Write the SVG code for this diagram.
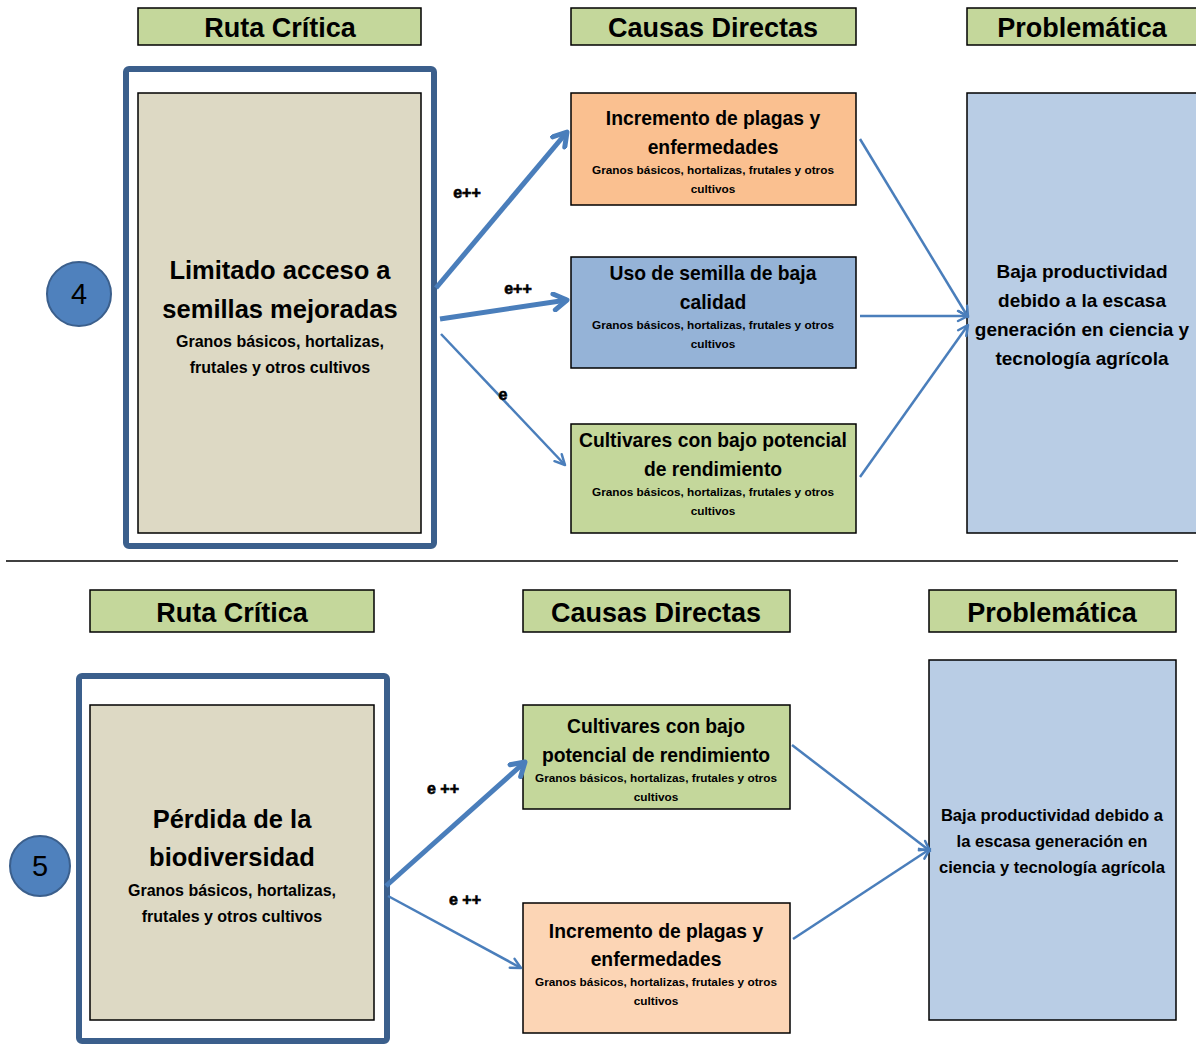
<svg xmlns="http://www.w3.org/2000/svg" width="1196" height="1044" viewBox="0 0 1196 1044">
<style>
text{font-family:"Liberation Sans",Arial,sans-serif;font-weight:bold;fill:#000;text-anchor:middle}
.hdr{fill:#c4d79b;stroke:#000;stroke-width:1.5}
.hdrt{font-size:27px}
.frame{fill:#fff;stroke:#3b5f8c;stroke-width:6}
.beige{fill:#ddd9c4;stroke:#000;stroke-width:1.5}
.box{stroke:#000;stroke-width:1.5}
.main{font-size:25.5px}
.sub{font-size:16px}
.bt{font-size:19.3px}
.st{font-size:11.8px}
.pt{font-size:19px}
.pt2{font-size:16.6px}
.num{fill:#4f81bd;stroke:#3b5f8c;stroke-width:2}
.numt{font-size:29px;font-weight:normal}
.lbl{font-size:16px;stroke:#000;stroke-width:0.6}
.thick{stroke:#4a7ebb;stroke-width:5;fill:none;marker-end:url(#ahT)}
.thin{stroke:#4a7ebb;stroke-width:2.5;fill:none;marker-end:url(#ahN)}
</style>
<defs>
<marker id="ahT" markerUnits="userSpaceOnUse" viewBox="0 0 20 20" refX="16" refY="10" markerWidth="20" markerHeight="20" orient="auto">
<path d="M3,2 L16,10 L3,18" fill="none" stroke="#4a7ebb" stroke-width="5" stroke-linecap="round" stroke-linejoin="round"/>
</marker>
<marker id="ahN" markerUnits="userSpaceOnUse" viewBox="0 0 14 14" refX="12" refY="7" markerWidth="14" markerHeight="14" orient="auto">
<path d="M2,2 L12,7 L2,12" fill="none" stroke="#4a7ebb" stroke-width="2.5" stroke-linecap="round" stroke-linejoin="round"/>
</marker>
</defs>
<rect width="1196" height="1044" fill="#fff"/>

<!-- Section 4 headers -->
<g id="h4-ruta"><rect class="hdr" x="138" y="8" width="283" height="37"/><text class="hdrt" x="280" y="37">Ruta Crítica</text></g>
<g id="h4-causas"><rect class="hdr" x="571" y="8" width="285" height="37"/><text class="hdrt" x="713" y="37">Causas Directas</text></g>
<g id="h4-prob"><rect class="hdr" x="967" y="8" width="232" height="37"/><text class="hdrt" x="1082" y="37">Problemática</text></g>

<g id="n4-ruta">
<rect class="frame" x="126" y="69" width="308" height="477" rx="3"/>
<rect class="beige" x="138" y="93" width="283" height="440"/>
<text class="main" x="280" y="279">Limitado acceso a</text>
<text class="main" x="280" y="318">semillas mejoradas</text>
<text class="sub" x="280" y="347">Granos básicos, hortalizas,</text>
<text class="sub" x="280" y="373">frutales y otros cultivos</text>
</g>
<g id="n4-num"><circle class="num" cx="79" cy="294" r="32"/><text class="numt" x="79" y="304">4</text></g>

<g id="n4-c1">
<rect class="box" x="571" y="93" width="285" height="112" fill="#fac090"/>
<text class="bt" x="713" y="125">Incremento de plagas y</text>
<text class="bt" x="713" y="154">enfermedades</text>
<text class="st" x="713" y="174">Granos básicos, hortalizas, frutales y otros</text>
<text class="st" x="713" y="193">cultivos</text>
</g>
<g id="n4-c2">
<rect class="box" x="571" y="257" width="285" height="111" fill="#95b3d7"/>
<text class="bt" x="713" y="280">Uso de semilla de baja</text>
<text class="bt" x="713" y="309">calidad</text>
<text class="st" x="713" y="329">Granos básicos, hortalizas, frutales y otros</text>
<text class="st" x="713" y="348">cultivos</text>
</g>
<g id="n4-c3">
<rect class="box" x="571" y="424" width="285" height="109" fill="#c4d79b"/>
<text class="bt" x="713" y="447">Cultivares con bajo potencial</text>
<text class="bt" x="713" y="476">de rendimiento</text>
<text class="st" x="713" y="496">Granos básicos, hortalizas, frutales y otros</text>
<text class="st" x="713" y="515">cultivos</text>
</g>
<g id="n4-prob">
<rect class="box" x="967" y="93" width="232" height="440" fill="#b9cde5"/>
<text class="pt" x="1082" y="278">Baja productividad</text>
<text class="pt" x="1082" y="307">debido a la escasa</text>
<text class="pt" x="1082" y="336">generación en ciencia y</text>
<text class="pt" x="1082" y="365">tecnología agrícola</text>
</g>

<line x1="6" y1="561" x2="1178" y2="561" stroke="#000" stroke-width="1.5"/>

<!-- Section 5 headers -->
<g id="h5-ruta"><rect class="hdr" x="90" y="590" width="284" height="42"/><text class="hdrt" x="232" y="622">Ruta Crítica</text></g>
<g id="h5-causas"><rect class="hdr" x="523" y="590" width="267" height="42"/><text class="hdrt" x="656" y="622">Causas Directas</text></g>
<g id="h5-prob"><rect class="hdr" x="929" y="590" width="247" height="42"/><text class="hdrt" x="1052" y="622">Problemática</text></g>

<g id="n5-ruta">
<rect class="frame" x="79" y="676" width="308" height="365" rx="3"/>
<rect class="beige" x="90" y="705" width="284" height="315"/>
<text class="main" x="232" y="828">Pérdida de la</text>
<text class="main" x="232" y="866">biodiversidad</text>
<text class="sub" x="232" y="896">Granos básicos, hortalizas,</text>
<text class="sub" x="232" y="922">frutales y otros cultivos</text>
</g>
<g id="n5-num"><circle class="num" cx="40" cy="866" r="30"/><text class="numt" x="40" y="876">5</text></g>

<g id="n5-c1">
<rect class="box" x="523" y="705" width="267" height="104" fill="#c4d79b"/>
<text class="bt" x="656" y="733">Cultivares con bajo</text>
<text class="bt" x="656" y="762">potencial de rendimiento</text>
<text class="st" x="656" y="782">Granos básicos, hortalizas, frutales y otros</text>
<text class="st" x="656" y="801">cultivos</text>
</g>
<g id="n5-c2">
<rect class="box" x="523" y="903" width="267" height="130" fill="#fcd5b5"/>
<text class="bt" x="656" y="938">Incremento de plagas y</text>
<text class="bt" x="656" y="966">enfermedades</text>
<text class="st" x="656" y="986">Granos básicos, hortalizas, frutales y otros</text>
<text class="st" x="656" y="1005">cultivos</text>
</g>
<g id="n5-prob">
<rect class="box" x="929" y="660" width="247" height="360" fill="#b9cde5"/>
<text class="pt2" x="1052" y="821">Baja productividad debido a</text>
<text class="pt2" x="1052" y="847">la escasa generación en</text>
<text class="pt2" x="1052" y="873">ciencia y tecnología agrícola</text>
</g>

<g id="connectors">
<line class="thick" x1="436" y1="288" x2="567" y2="132"/>
<line class="thick" x1="440" y1="319" x2="567" y2="300"/>
<line class="thin" x1="441" y1="334" x2="565" y2="465"/>
<line class="thin" x1="860" y1="139" x2="968" y2="317"/>
<line class="thin" x1="860" y1="316" x2="968" y2="316"/>
<line class="thin" x1="860" y1="477" x2="968" y2="325"/>
<line class="thick" x1="386" y1="886" x2="525" y2="762"/>
<line class="thin" x1="388" y1="896" x2="521" y2="968"/>
<line class="thin" x1="792" y1="745" x2="930" y2="851"/>
<line class="thin" x1="793" y1="939" x2="930" y2="849"/>
<text class="lbl" x="467" y="198">e++</text>
<text class="lbl" x="518" y="294">e++</text>
<text class="lbl" x="503" y="400">e</text>
<text class="lbl" x="443" y="794">e ++</text>
<text class="lbl" x="465" y="905">e ++</text>
</g>
</svg>
